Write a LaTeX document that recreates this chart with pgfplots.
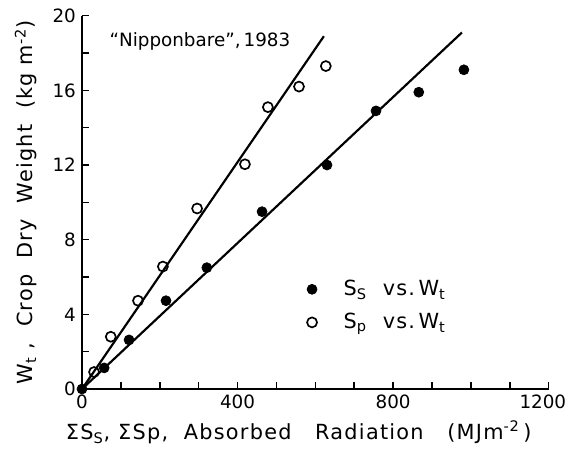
\documentclass[border=0pt]{standalone}
\usepackage{pgfplots}
\pgfplotsset{compat=1.18}
\usepackage{fontspec}
\setmainfont{DejaVu Sans}
\newfontfamily\lblfont[LetterSpace=6]{DejaVu Sans}
\begin{document}
\begin{tikzpicture}
\fontsize{10.5}{12}\selectfont
\begin{axis}[
  scale only axis,
  width=280pt, height=224pt,
  xmin=0, xmax=1200, ymin=0, ymax=20,
  axis x line=bottom, axis y line=left,
  axis line style={-, line width=0.9pt},
  tick align=inside,
  xtick={0,400,800,1200}, ytick={0,4,8,12,16,20},
  xticklabels={0,400,800,\hspace*{-7pt}1200},
  minor x tick num=3, minor y tick num=1,
  major tick length=4pt, minor tick length=4pt,
  tick style={line width=0.9pt, black},
  /pgf/number format/assume math mode=true,
  /pgf/number format/1000 sep={},
  ticklabel style={font=\fontsize{11}{13}\selectfont},
  xlabel={ΣS\textsubscript{S},\ ΣSp,\ \ Absorbed\ \ \ Radiation\ \ \ (MJm\textsuperscript{-2}\,)},
  ylabel={W\textsubscript{t}\ ,\ \ Crop\ \ Dry\ \ Weight\ \ (kg\ m\textsuperscript{-2})},
  label style={font=\lblfont\fontsize{12.5}{14}\selectfont},
  ylabel style={yshift=2pt},
  xlabel style={xshift=-10pt},
  clip=false,
  legend style={draw=none, fill=none, at={(axis cs:565,6.2)}, anchor=north west, row sep=5pt, font=\lblfont\fontsize{12.5}{14}\selectfont,
    /tikz/every odd column/.append style={column sep=14pt}},
  legend cell align=left,
]
\addplot[black, line width=1.3pt, forget plot] coordinates {(0,0) (977,19.1)};
\addplot[black, line width=1.3pt, forget plot] coordinates {(0,0) (622,18.9)};
\addplot[only marks, mark=*, mark size=3pt, black] coordinates {
(0,0) (57,1.13) (121,2.63) (216,4.73) (321,6.5) (463,9.5) (630,12.0) (756,14.9) (866,15.9) (982,17.1)};
\addlegendentry{S\textsubscript{S}\ \ vs.\,W\textsubscript{t}}
\addplot[only marks, mark=o, mark size=3pt, black, line width=1pt, mark options={fill=white}] coordinates {
(31,0.91) (74,2.8) (144,4.73) (208,6.56) (296,9.67) (419,12.04) (478,15.1) (558,16.2) (627,17.3)};
\addlegendentry{S\textsubscript{p}\ \ vs.\,W\textsubscript{t}}
\node[anchor=west, font=\fontsize{11}{12}\selectfont] at (axis cs:55,18.6) {“Nipponbare”,\,1983};
\coordinate (O) at (axis cs:0,0);
\end{axis}
\pgfresetboundingbox
\path[use as bounding box] ([shift={(-49.2pt,-42.6pt)}]O) rectangle ([shift={(292.8pt,233.4pt)}]O);
\end{tikzpicture}
\end{document}
